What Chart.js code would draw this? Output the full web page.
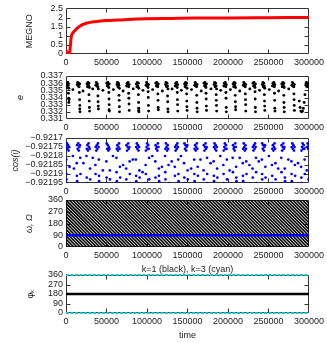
<!DOCTYPE html>
<html><head><meta charset="utf-8">
<script src="https://cdn.jsdelivr.net/npm/chart.js@4/dist/chart.umd.min.js"></script>
<style>
html,body{margin:0;padding:0;background:#fff;width:327px;height:343px;overflow:hidden}
canvas{position:absolute;left:0;top:0}
</style></head><body>
<canvas id="p1" width="327" height="343"></canvas>
<canvas id="p2" width="327" height="343"></canvas>
<canvas id="p3" width="327" height="343"></canvas>
<canvas id="p4" width="327" height="343"></canvas>
<canvas id="p5" width="327" height="343"></canvas>
<script>
// ---------- tick values & labels ----------
const xTickValues = [0, 50000, 100000, 150000, 200000, 250000, 300000];
const megnoTicks = [0, 0.5, 1, 1.5, 2, 2.5];
const megnoTickLabels = ['0', '0.5', '1', '1.5', '2', '2.5'];
const eccTicks = [0.331, 0.332, 0.333, 0.334, 0.335, 0.336, 0.337];
const eccTickLabels = ['0.331', '0.332', '0.333', '0.334', '0.335', '0.336', '0.337'];
const cosTicks = [-0.92195, -0.9219, -0.92185, -0.9218, -0.92175, -0.9217];
const cosTickLabels = ['\u22120.92195', '\u22120.9219', '\u22120.92185', '\u22120.9218', '\u22120.92175', '\u22120.9217'];
const angleTicks = [0, 90, 180, 270, 360];
const angleTickLabels = ['0', '90', '180', '270', '360'];

// ---------- MEGNO ----------
const megnoTime = [0, 1500, 3000, 4500, 5500, 6500, 7500, 9000, 11000, 14000, 17000, 21000, 26000, 32000, 40000, 50000, 65000, 80000, 100000, 130000, 160000, 200000, 250000, 300000];
const megnoValue = [0.2, 0.08, 0.0, 0.02, 0.5, 0.95, 1.08, 1.18, 1.28, 1.42, 1.52, 1.62, 1.7, 1.75, 1.79, 1.83, 1.86, 1.9, 1.93, 1.95, 1.97, 1.98, 1.99, 2.0];

// ---------- eccentricity samples [time, e] ----------
const eccPoints = [
[500,.3356],[1100,.3360],[1700,.3354],[2300,.3361],[2900,.3357],[3500,.3353],[3000,.3346],[3300,.3339],[3500,.3333],[3700,.3337],
[13800,.3358],[14400,.3361],[15000,.3356],[15600,.3360],[16200,.3355],[16900,.3359],[16500,.3347],[16800,.3337],[17100,.3329],[17300,.3320],[17000,.3324],
[25900,.3359],[26500,.3355],[27100,.3361],[27700,.3357],[28300,.3360],[28900,.3354],[28400,.3344],[28700,.3335],[28900,.3326],[29100,.3321],
[36900,.3357],[37500,.3361],[38100,.3356],[38700,.3359],[39300,.3355],[39900,.3352],[39400,.3342],[39600,.3334],[39800,.3328],[40000,.3324],
[50400,.3360],[51000,.3356],[51600,.3361],[52200,.3358],[52800,.3354],[53400,.3359],[52900,.3347],[53100,.3338],[53300,.3330],[53500,.3321],[53200,.3323],
[62900,.3358],[63500,.3361],[64100,.3355],[64700,.3360],[65300,.3357],[65900,.3353],[65400,.3343],[65700,.3336],[65900,.3327],[66100,.3320],
[74900,.3356],[75500,.3360],[76100,.3357],[76700,.3361],[77300,.3355],[77900,.3358],[77400,.3346],[77600,.3339],[77800,.3331],[78000,.3322],
[86900,.3359],[87500,.3355],[88100,.3361],[88700,.3356],[89300,.3360],[89900,.3353],[89400,.3344],[89600,.3333],[89800,.3325],[90000,.3320],[89700,.3322],
[98900,.3357],[99500,.3361],[100100,.3356],[100700,.3359],[101300,.3354],[101900,.3358],[101400,.3348],[101600,.3340],[101800,.3329],[102000,.3321],
[110900,.3360],[111500,.3356],[112100,.3361],[112700,.3357],[113300,.3355],[113900,.3359],[113400,.3345],[113600,.3336],[113800,.3326],[114000,.3323],
[122900,.3358],[123500,.3361],[124100,.3355],[124700,.3360],[125300,.3356],[125900,.3352],[125400,.3342],[125600,.3334],[125800,.3324],[126000,.3320],
[134900,.3356],[135500,.3360],[136100,.3357],[136700,.3361],[137300,.3354],[137900,.3358],[137400,.3347],[137600,.3337],[137800,.3330],[138000,.3321],
[146400,.3359],[147000,.3355],[147600,.3361],[148200,.3357],[148800,.3360],[149400,.3353],[148900,.3345],[149100,.3335],[149300,.3327],[149500,.3322],
[158900,.3357],[159500,.3361],[160100,.3356],[160700,.3359],[161300,.3355],[161900,.3358],[161400,.3343],[161600,.3333],[161800,.3325],[162000,.3320],
[170400,.3360],[171000,.3356],[171600,.3361],[172200,.3357],[172800,.3354],[173400,.3359],[172900,.3346],[173100,.3338],[173300,.3328],[173500,.3322],
[182900,.3358],[183500,.3361],[184100,.3355],[184700,.3360],[185300,.3356],[185900,.3352],[185400,.3344],[185600,.3336],[185800,.3329],[186000,.3321],
[194900,.3356],[195500,.3360],[196100,.3357],[196700,.3361],[197300,.3355],[197900,.3358],[197400,.3347],[197600,.3339],[197800,.3326],[198000,.3320],
[206400,.3359],[207000,.3355],[207600,.3361],[208200,.3357],[208800,.3360],[209400,.3354],[208900,.3343],[209100,.3334],[209300,.3327],[209500,.3323],
[218900,.3357],[219500,.3361],[220100,.3356],[220700,.3359],[221300,.3355],[221900,.3358],[221400,.3345],[221600,.3337],[221800,.3330],[222000,.3321],
[230900,.3360],[231500,.3356],[232100,.3361],[232700,.3357],[233300,.3354],[233900,.3359],[233400,.3348],[233600,.3338],[233800,.3326],[234000,.3320],
[242400,.3358],[243000,.3361],[243600,.3355],[244200,.3360],[244800,.3356],[245400,.3353],[244900,.3344],[245100,.3335],[245300,.3328],[245500,.3322],
[254900,.3356],[255500,.3360],[256100,.3357],[256700,.3361],[257300,.3355],[257900,.3358],[257400,.3346],[257600,.3336],[257800,.3325],[258000,.3321],
[266400,.3359],[267000,.3355],[267600,.3361],[268200,.3357],[268800,.3360],[269400,.3354],[268900,.3343],[269100,.3333],[269300,.3326],[269500,.3320],
[278900,.3357],[279500,.3361],[280100,.3356],[280700,.3359],[281300,.3355],[281900,.3358],[281400,.3345],[281600,.3337],[281800,.3329],[282000,.3322],
[288000,.3335],[289000,.3326],[290000,.3321],[291000,.3320],[292000,.3321],[293000,.3325],[294000,.3333],[295000,.3344],
[296200,.3357],[296800,.3361],[297400,.3355],[298000,.3360],[298600,.3356],[299400,.3359],
[8500,.3351],[21000,.3349],[33000,.3352],[45500,.3350],[58500,.3351],[70500,.3349],[83000,.3352],[95000,.3350],[107000,.3351],[119000,.3349],[131000,.3352],[142500,.3350],
[155000,.3351],[167000,.3349],[179000,.3352],[191000,.3350],[203000,.3351],[214500,.3349],[227000,.3352],[239000,.3350],[251000,.3351],[262500,.3349],[275000,.3352]
];

// ---------- cos(i) samples [time, cos i] ----------
const cosIncPoints = [
[700,-0.92175],[1300,-0.92173],[1900,-0.92176],[2600,-0.92174],[3200,-0.92177],[3900,-0.92175],[300,-0.92182],[500,-0.92190],[700,-0.92193],[4300,-0.92186],[1000,-0.92195],
[13700,-0.92174],[14400,-0.92176],[15100,-0.92173],[15800,-0.92177],[16500,-0.92175],[17200,-0.92174],[13300,-0.92184],[13500,-0.92191],[13800,-0.92194],[17600,-0.92181],[17900,-0.92190],
[25700,-0.92176],[26400,-0.92174],[27100,-0.92177],[27800,-0.92173],[28500,-0.92175],[29200,-0.92176],[25300,-0.92180],[25600,-0.92192],[29700,-0.92187],[29900,-0.92193],[26000,-0.92195],
[36700,-0.92175],[37400,-0.92177],[38100,-0.92174],[38800,-0.92176],[39500,-0.92173],[40200,-0.92175],[36300,-0.92185],[36500,-0.92190],[40600,-0.92182],[40800,-0.92191],[40900,-0.92194],
[50200,-0.92173],[50900,-0.92176],[51600,-0.92174],[52300,-0.92177],[53000,-0.92175],[53700,-0.92176],[49800,-0.92183],[50100,-0.92192],[54100,-0.92188],[54300,-0.92193],[50300,-0.92195],
[62700,-0.92176],[63400,-0.92174],[64100,-0.92177],[64800,-0.92175],[65500,-0.92173],[66200,-0.92176],[62300,-0.92181],[62500,-0.92189],[62800,-0.92194],[66600,-0.92186],[66900,-0.92192],
[74700,-0.92174],[75400,-0.92177],[76100,-0.92175],[76800,-0.92173],[77500,-0.92176],[78200,-0.92175],[74300,-0.92187],[74500,-0.92193],[78600,-0.92183],[78800,-0.92190],[79000,-0.92195],
[86700,-0.92175],[87400,-0.92173],[88100,-0.92176],[88800,-0.92174],[89500,-0.92177],[90200,-0.92175],[86300,-0.92182],[86600,-0.92191],[86800,-0.92194],[90600,-0.92188],[90900,-0.92192],
[98700,-0.92177],[99400,-0.92175],[100100,-0.92173],[100800,-0.92176],[101500,-0.92174],[102200,-0.92176],[98300,-0.92185],[98600,-0.92190],[102600,-0.92181],[102800,-0.92193],[98800,-0.92195],
[110700,-0.92174],[111400,-0.92176],[112100,-0.92175],[112800,-0.92177],[113500,-0.92173],[114200,-0.92175],[110300,-0.92183],[110500,-0.92192],[114600,-0.92187],[114800,-0.92191],[115000,-0.92194],
[122700,-0.92176],[123400,-0.92173],[124100,-0.92175],[124800,-0.92177],[125500,-0.92174],[126200,-0.92176],[122300,-0.92180],[122600,-0.92189],[122800,-0.92193],[126600,-0.92185],[126900,-0.92195],
[134700,-0.92175],[135400,-0.92177],[136100,-0.92174],[136800,-0.92176],[137500,-0.92173],[138200,-0.92175],[134300,-0.92186],[134500,-0.92191],[138600,-0.92182],[138800,-0.92190],[139000,-0.92194],
[146200,-0.92173],[146900,-0.92176],[147600,-0.92174],[148300,-0.92177],[149000,-0.92175],[149700,-0.92174],[145800,-0.92184],[146100,-0.92192],[150100,-0.92188],[150300,-0.92193],[146300,-0.92195],
[158700,-0.92176],[159400,-0.92174],[160100,-0.92177],[160800,-0.92175],[161500,-0.92173],[162200,-0.92176],[158300,-0.92182],[158500,-0.92190],[158800,-0.92194],[162600,-0.92186],[162900,-0.92191],
[170200,-0.92174],[170900,-0.92177],[171600,-0.92175],[172300,-0.92173],[173000,-0.92176],[173700,-0.92175],[169800,-0.92188],[170100,-0.92193],[174100,-0.92181],[174300,-0.92190],[174500,-0.92195],
[182700,-0.92175],[183400,-0.92173],[184100,-0.92176],[184800,-0.92174],[185500,-0.92177],[186200,-0.92175],[182300,-0.92183],[182600,-0.92191],[182800,-0.92194],[186600,-0.92187],[186900,-0.92192],
[194700,-0.92177],[195400,-0.92175],[196100,-0.92173],[196800,-0.92176],[197500,-0.92174],[198200,-0.92176],[194300,-0.92185],[194600,-0.92190],[198600,-0.92182],[198800,-0.92193],[194800,-0.92195],
[206200,-0.92174],[206900,-0.92176],[207600,-0.92175],[208300,-0.92177],[209000,-0.92173],[209700,-0.92175],[205800,-0.92181],[206100,-0.92189],[210100,-0.92186],[210300,-0.92192],[210500,-0.92194],
[218700,-0.92176],[219400,-0.92173],[220100,-0.92175],[220800,-0.92177],[221500,-0.92174],[222200,-0.92176],[218300,-0.92184],[218500,-0.92191],[218800,-0.92194],[222600,-0.92183],[222900,-0.92190],
[230700,-0.92175],[231400,-0.92177],[232100,-0.92174],[232800,-0.92176],[233500,-0.92173],[234200,-0.92175],[230300,-0.92187],[230600,-0.92192],[234600,-0.92181],[234800,-0.92189],[235000,-0.92195],
[242200,-0.92173],[242900,-0.92176],[243600,-0.92174],[244300,-0.92177],[245000,-0.92175],[245700,-0.92174],[241800,-0.92182],[242100,-0.92190],[242300,-0.92193],[246100,-0.92186],[246400,-0.92192],
[254700,-0.92176],[255400,-0.92174],[256100,-0.92177],[256800,-0.92175],[257500,-0.92173],[258200,-0.92176],[254300,-0.92185],[254600,-0.92191],[258600,-0.92184],[258800,-0.92193],[254800,-0.92195],
[266200,-0.92174],[266900,-0.92177],[267600,-0.92175],[268300,-0.92173],[269000,-0.92176],[269700,-0.92175],[265800,-0.92181],[266100,-0.92189],[270100,-0.92187],[270300,-0.92192],[270500,-0.92194],
[278700,-0.92175],[279400,-0.92173],[280100,-0.92176],[280800,-0.92174],[281500,-0.92177],[282200,-0.92175],[278300,-0.92183],[278500,-0.92190],[278800,-0.92194],[282600,-0.92185],[282900,-0.92191],
[290700,-0.92177],[291400,-0.92175],[292100,-0.92173],[292800,-0.92176],[293500,-0.92174],[294200,-0.92176],[290300,-0.92186],[290600,-0.92192],[294600,-0.92182],[294800,-0.92190],[290800,-0.92195],
[297600,-0.92175],[298300,-0.92173],[299000,-0.92176],[299700,-0.92174],[297200,-0.92188],[299500,-0.92193],
[8500,-0.92180],[9800,-0.92187],[21500,-0.92184],[33000,-0.92181],[45500,-0.92188],[58000,-0.92180],[70500,-0.92185],[82500,-0.92182],[94500,-0.92189],[106500,-0.92180],[118500,-0.92186],[130500,-0.92183],
[142000,-0.92180],[154500,-0.92187],[166000,-0.92182],[178500,-0.92184],[190500,-0.92180],[202000,-0.92188],[214500,-0.92181],[226500,-0.92185],[238000,-0.92183],[250500,-0.92180],[262000,-0.92187],[274500,-0.92182],[286500,-0.92184]
];

// ---------- omega / Omega ----------
// omega wraps 360 -> 0; sampled output shows as aliased descending stripes.
const omegaStripeStart = [-56000,-52000,-48000,-44000,-40000,-36000,-32000,-28000,-24000,-20000,-16000,-12000,-8000,-4000,
0,4000,8000,12000,16000,20000,24000,28000,32000,36000,40000,44000,48000,52000,56000,60000,64000,68000,72000,76000,80000,84000,88000,92000,96000,
100000,104000,108000,112000,116000,120000,124000,128000,132000,136000,140000,144000,148000,152000,156000,160000,164000,168000,172000,176000,180000,184000,188000,192000,196000,
200000,204000,208000,212000,216000,220000,224000,228000,232000,236000,240000,244000,248000,252000,256000,260000,264000,268000,272000,276000,280000,284000,288000,292000,296000];
const omegaStripeSweep = 57700;   // time for one stripe to go 360 -> 0
const OmegaTime = [0, 300000];
const OmegaValue = [90, 90];

// ---------- resonant angles ----------
const phiTime = [0, 300000];
const phi1Value = [180, 180];        // k=1 (black)
const phi3Low = [0, 0];              // k=3 (cyan), near 0
const phi3High = [360, 360];         // k=3 (cyan), near 360

// ================= drawing =================
const FAM = "'Liberation Sans', Arial, Helvetica, sans-serif";
const tickFont = {family: FAM, size: 9};
const TXT = '#222';

const framePlugin = {
  id: 'frame',
  beforeDatasetsDraw(chart) {
    const {ctx, chartArea: a, scales: {x, y}} = chart;
    ctx.save();
    ctx.strokeStyle = '#333';
    ctx.lineWidth = 1;
    const L = Math.round(a.left) + 0.5, R = Math.round(a.right) - 0.5;
    const T = Math.round(a.top) + 0.5, B = Math.round(a.bottom) - 0.5;
    ctx.beginPath();
    ctx.rect(L, T, R - L, B - T);
    x.ticks.forEach(t => {
      const p = Math.round(x.getPixelForValue(t.value)) + 0.5;
      if (p > L + 1 && p < R - 1) { ctx.moveTo(p, B); ctx.lineTo(p, B - 4); ctx.moveTo(p, T); ctx.lineTo(p, T + 4); }
    });
    y.ticks.forEach(t => {
      const p = Math.round(y.getPixelForValue(t.value)) + 0.5;
      if (p > T + 1 && p < B - 1) { ctx.moveTo(L, p); ctx.lineTo(L + 4, p); ctx.moveTo(R, p); ctx.lineTo(R - 4, p); }
    });
    ctx.stroke();
    ctx.restore();
  }
};

function xScale(xh, xTitle) {
  return {
    type: 'linear', min: 0, max: 300000,
    afterBuildTicks: s => { s.ticks = xTickValues.map(v => ({value: v})); },
    afterFit: s => { s.height = xh; },
    grid: {display: false, drawTicks: false}, border: {display: false},
    ticks: {autoSkip: false, maxRotation: 0, minRotation: 0, padding: 3, color: TXT, font: tickFont,
            callback: v => String(v)},
    title: xTitle ? {display: true, text: xTitle, padding: 0, color: TXT, font: {family: FAM, size: 9}} : {display: false}
  };
}
function yScale(min, max, vals, labels, width, titleText, italic) {
  return {
    type: 'linear', min: min, max: max,
    afterBuildTicks: s => { s.ticks = vals.map(v => ({value: v})); },
    afterFit: s => { s.width = width; },
    grid: {display: false, drawTicks: false}, border: {display: false},
    ticks: {autoSkip: false, padding: 3, color: TXT, font: tickFont,
            callback: (v, i) => labels[i]},
    title: {display: true, text: titleText, padding: 0, color: TXT,
            font: {family: FAM, size: 9, style: italic ? 'italic' : 'normal'}}
  };
}
function panel(id, o) {
  const padLeft = o.titleX - 5.4;
  return new Chart(document.getElementById(id), {
    type: 'scatter',
    data: {datasets: o.datasets},
    options: {
      responsive: false, animation: false, devicePixelRatio: 1, events: [],
      layout: {padding: {left: padLeft, right: 17, top: o.padTop, bottom: 343 - o.bottom - o.xh}},
      plugins: {legend: {display: false}, tooltip: {enabled: false},
        title: o.title ? {display: true, text: o.title, fullSize: false, align: 'center', color: TXT,
                          padding: {top: 0, bottom: 0.2}, font: {family: FAM, size: 9, weight: 'normal'}} : {display: false}},
      scales: {
        x: xScale(o.xh, o.xTitle),
        y: yScale(o.ymin, o.ymax, o.yTicks, o.yLabels, 66 - padLeft, o.yTitle, o.italic)
      }
    },
    plugins: [framePlugin]
  });
}
const pts = (xs, ys) => xs.map((x, i) => ({x: x, y: ys[i]}));
const pairs = arr => arr.map(p => ({x: p[0], y: p[1]}));

// Panel 1: MEGNO
panel('p1', {
  padTop: 8, bottom: 54, xh: 14, titleX: 30,
  ymin: 0, ymax: 2.5, yTicks: megnoTicks, yLabels: megnoTickLabels, yTitle: 'MEGNO',
  datasets: [{type: 'line', data: pts(megnoTime, megnoValue), borderColor: '#ff0000', borderWidth: 3,
              pointRadius: 0, cubicInterpolationMode: 'monotone', fill: false}]
});

// Panel 2: eccentricity
panel('p2', {
  padTop: 76, bottom: 119, xh: 14, titleX: 20,
  ymin: 0.331, ymax: 0.337, yTicks: eccTicks, yLabels: eccTickLabels, yTitle: 'e', italic: true,
  datasets: [{data: pairs(eccPoints), pointRadius: 1.45, pointBorderWidth: 0, backgroundColor: '#000', borderColor: '#000'}]
});

// Panel 3: cos(i)
panel('p3', {
  padTop: 138, bottom: 183, xh: 14, titleX: 15,
  ymin: -0.92195, ymax: -0.9217, yTicks: cosTicks, yLabels: cosTickLabels, yTitle: 'cos(i)', italic: true,
  datasets: [{data: pairs(cosIncPoints), pointRadius: 1.35, pointBorderWidth: 0, backgroundColor: '#0000ff', borderColor: '#0000ff'}]
});

// Panel 4: omega, Omega
const omegaData = [];
omegaStripeStart.forEach(s => {
  omegaData.push({x: s, y: 360}, {x: s + omegaStripeSweep, y: 0}, {x: s + omegaStripeSweep, y: null});
});
panel('p4', {
  padTop: 200, bottom: 247, xh: 14, titleX: 29,
  ymin: 0, ymax: 360, yTicks: angleTicks, yLabels: angleTickLabels, yTitle: '\u03c9, \u03a9', italic: true,
  datasets: [
    {type: 'line', data: pts(OmegaTime, OmegaValue), borderColor: '#0000ff', borderWidth: 2.5, pointRadius: 0},
    {type: 'line', data: omegaData, borderColor: '#000', borderWidth: 1.6, pointRadius: 0, spanGaps: false}
  ]
});

// Panel 5: resonant angles
panel('p5', {
  padTop: 264, bottom: 313, xh: 28.4, titleX: 30.5, xTitle: 'time',
  title: 'k=1 (black), k=3 (cyan)',
  ymin: 0, ymax: 360, yTicks: angleTicks, yLabels: angleTickLabels, yTitle: '\u03c6\u2096', italic: false,
  datasets: [
    {type: 'line', data: pts(phiTime, phi3High), borderColor: '#10c8c8', borderWidth: 2, borderDash: [3, 1.5], pointRadius: 0, clip: 4},
    {type: 'line', data: pts(phiTime, phi3Low), borderColor: '#10c8c8', borderWidth: 2, borderDash: [3, 1.5], pointRadius: 0, clip: 4},
    {type: 'line', data: pts(phiTime, phi1Value), borderColor: '#000', borderWidth: 2.5, pointRadius: 0}
  ]
});
</script>
</body></html>
